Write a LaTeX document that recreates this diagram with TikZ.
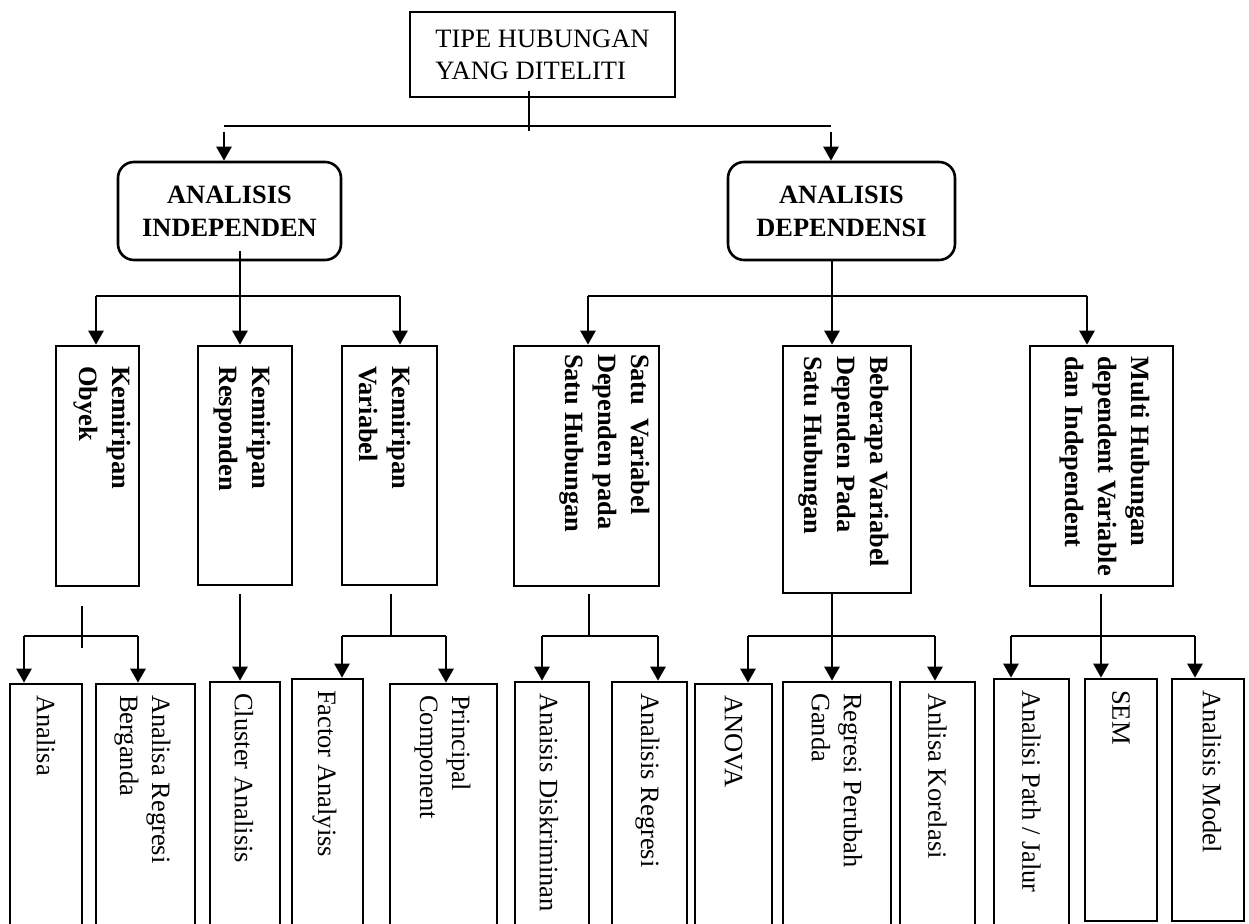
\documentclass[tikz,border=0pt]{standalone}
\usepackage{fontspec}
\setmainfont{Liberation Serif}
\usetikzlibrary{arrows.meta}

% box from corner (x1,y1) to (x2,y2), pixel-like units, y pointing down
\newcommand{\mkbox}[7][]{%
  \node[rect,#1,minimum width={(#5-#3)*0.5pt},minimum height={(#6-#4)*0.5pt}]
    (#2) at ({(#3+#5)/2},{(#4+#6)/2}) {#7};}

\begin{document}
\begin{tikzpicture}[x=0.5pt,y=-0.5pt,
  rect/.style={draw,line width=1.3pt,inner sep=0pt},
  rbox/.style={rounded corners=8pt},
  ln/.style={line width=1.3pt},
  arr/.style={line width=1.3pt,-{Triangle[length=7pt,width=7.5pt]}},
  regtxt/.style={font=\fontsize{13.25}{16}\selectfont},
  boldtxt/.style={font=\fontsize{13.2}{16.5}\selectfont\bfseries},
  vbold/.style={rotate=-90,anchor=west,inner sep=0pt,align=left,boldtxt},
  vreg/.style={rotate=-90,anchor=west,inner sep=0pt,align=left,regtxt}]

\useasboundingbox (0,0) rectangle (1249,924);
\fill[white] (0,0) rectangle (1249,924);

% ---- level 0 and level 1
\mkbox[regtxt,align=left]{top}{410}{12}{675}{97}{TIPE HUBUNGAN\\YANG DITELITI}
\mkbox[rbox,boldtxt,align=center]{ind}{118}{162}{341}{260}{ANALISIS\\INDEPENDEN}
\mkbox[rbox,boldtxt,align=center]{dep}{728}{162}{955}{260}{ANALISIS\\DEPENDENSI}

% ---- level 2
\mkbox{obj}{56}{346}{139}{586}{}
\mkbox{resp}{198}{346}{292}{585}{}
\mkbox{var}{342}{346}{437}{585}{}
\mkbox{satu}{514}{346}{659}{586}{}
\mkbox{beb}{783}{346}{911}{593}{}
\mkbox{multi}{1030}{346}{1173}{586}{}

\node[vbold] (tobj)   at ([shift={(4.5,21)}]obj.north)   {Kemiripan\\Obyek};
\node[vbold] (tresp)  at ([shift={(-2.5,21)}]resp.north) {Kemiripan\\Responden};
\node[vbold] (tvar)   at ([shift={(-4.5,21)}]var.north)  {Kemiripan\\Variabel};
\node[vbold] (tsatu)  at ([shift={(18.5,9)}]satu.north)  {Satu\ \ Variabel\\Dependen pada\\Satu Hubungan};
\node[vbold] (tbeb)   at ([shift={(-3.5,11)}]beb.north)  {Beberapa Variabel\\Dependen Pada\\Satu Hubungan};
\node[vbold] (tmulti) at ([shift={(3.5,11)}]multi.north) {Multi Hubungan\\dependent Variable\\dan Independent};

% ---- level 3
\mkbox{b1}{10}{684}{82}{935}{}
\mkbox{b2}{96}{684}{195}{935}{}
\mkbox{b3}{210}{682}{280}{935}{}
\mkbox{b4}{292}{679}{363}{935}{}
\mkbox{b5}{390}{684}{497}{935}{}
\mkbox{b6}{515}{682}{589}{935}{}
\mkbox{b7}{612}{682}{687}{935}{}
\mkbox{b8}{695}{684}{772}{935}{}
\mkbox{b9}{783}{682}{891}{935}{}
\mkbox{b10}{900}{682}{975}{935}{}
\mkbox{b11}{994}{679}{1069}{935}{}
\mkbox{b12}{1085}{679}{1157}{921}{}
\mkbox{b13}{1172}{679}{1244}{921}{}

\node[vreg] (t1)  at ([shift={(0,12)}]b1.north)  {Analisa};
\node[vreg] (t2)  at ([shift={(-3,12)}]b2.north) {Analisa Regresi\\Berganda};
\node[vreg] (t3)  at ([shift={(-1,12)}]b3.north) {Cluster Analisis};
\node[vreg] (t4)  at ([shift={(-3,12)}]b4.north) {Factor Analyiss};
\node[vreg] (t5)  at ([shift={(-1,12)}]b5.north) {Principal\\Component};
\node[vreg] (t6)  at ([shift={(-3,12)}]b6.north) {Anaisis Diskriminan};
\node[vreg] (t7)  at ([shift={(-2,12)}]b7.north) {Analisis Regresi};
\node[vreg] (t8)  at ([shift={(0,12)}]b8.north)  {ANOVA};
\node[vreg] (t9)  at ([shift={(0,12)}]b9.north)  {Regresi Perubah\\Ganda};
\node[vreg] (t10) at ([shift={(0,12)}]b10.north) {Anlisa Korelasi};
\node[vreg] (t11) at ([shift={(0,12)}]b11.north) {Analisi Path / Jalur};
\node[vreg] (t12) at ([shift={(0,12)}]b12.north) {SEM};
\node[vreg] (t13) at ([shift={(4,12)}]b13.north) {Analisis Model};

% ---- connectors: level 0 -> level 1
\draw[ln] ([shift={(-13.5,-7)}]top.south) -- ++(0,40);
\coordinate (h0l) at (224,126);
\coordinate (h0r) at (831,126);
\draw[ln] (h0l) -- (h0r);
\draw[arr] ([shift={(0,6)}]h0l) -- (ind.north -| h0l);
\draw[arr] ([shift={(0,6)}]h0r) -- (dep.north -| h0r);

% ---- connectors: level 1 -> level 2
\coordinate (h1l) at (96,296);
\coordinate (h1m) at (240,296);
\coordinate (h1r) at (400,296);
\draw[ln] (h1l) -- (h1r);
\draw[arr] ([yshift=5pt]ind.south -| h1m) -- (resp.north -| h1m);
\draw[arr] (h1l) -- (obj.north -| h1l);
\draw[arr] (h1r) -- (var.north -| h1r);

\coordinate (h2l) at (588,296);
\coordinate (h2m) at (832,296);
\coordinate (h2r) at (1087,296);
\draw[ln] (h2l) -- (h2r);
\draw[arr] (dep.south -| h2m) -- (beb.north -| h2m);
\draw[arr] (h2l) -- (satu.north -| h2l);
\draw[arr] (h2r) -- (multi.north -| h2r);

% ---- connectors: level 2 -> level 3
% Kemiripan Obyek
\draw[ln] ([shift={(-15.5,19)}]obj.south) -- ++(0,42);
\coordinate (g1l) at (24,636);
\coordinate (g1r) at (138,636);
\draw[ln] (g1l) -- (g1r);
\draw[arr] (g1l) -- (b1.north -| g1l);
\draw[arr] (g1r) -- (b2.north -| g1r);

% Kemiripan Responden
\coordinate (r0) at ([shift={(-5,8)}]resp.south);
\draw[arr] (r0) -- (b3.north -| r0);

% Kemiripan Variabel
\coordinate (v0) at ([shift={(1.5,8)}]var.south);
\coordinate (g3l) at (342,636);
\coordinate (g3r) at (446,636);
\draw[ln] (v0) -- (v0 |- g3l);
\draw[ln] (g3l) -- (g3r);
\draw[arr] (g3l) -- (b4.north -| g3l);
\draw[arr] (g3r) -- (b5.north -| g3r);

% Satu Variabel
\coordinate (d0) at ([shift={(2.5,7)}]satu.south);
\coordinate (g4l) at (542,636);
\coordinate (g4r) at (658,636);
\draw[ln] (d0) -- (d0 |- g4l);
\draw[ln] (g4l) -- (g4r);
\draw[arr] (g4l) -- (b6.north -| g4l);
\draw[arr] (g4r) -- (b7.north -| g4r);

% Beberapa Variabel
\coordinate (e0) at ([shift={(-15,0)}]beb.south);
\coordinate (g5l) at (748,636);
\coordinate (g5r) at (935,636);
\draw[arr] (e0) -- (b9.north -| e0);
\draw[ln] (g5l) -- (g5r);
\draw[arr] (g5l) -- (b8.north -| g5l);
\draw[arr] (g5r) -- (b10.north -| g5r);

% Multi Hubungan
\coordinate (m0) at ([shift={(-0.5,7)}]multi.south);
\coordinate (g6l) at (1011,636);
\coordinate (g6r) at (1195,636);
\draw[arr] (m0) -- (b12.north -| m0);
\draw[ln] (g6l) -- (g6r);
\draw[arr] (g6l) -- (b11.north -| g6l);
\draw[arr] (g6r) -- (b13.north -| g6r);

\end{tikzpicture}
\end{document}
